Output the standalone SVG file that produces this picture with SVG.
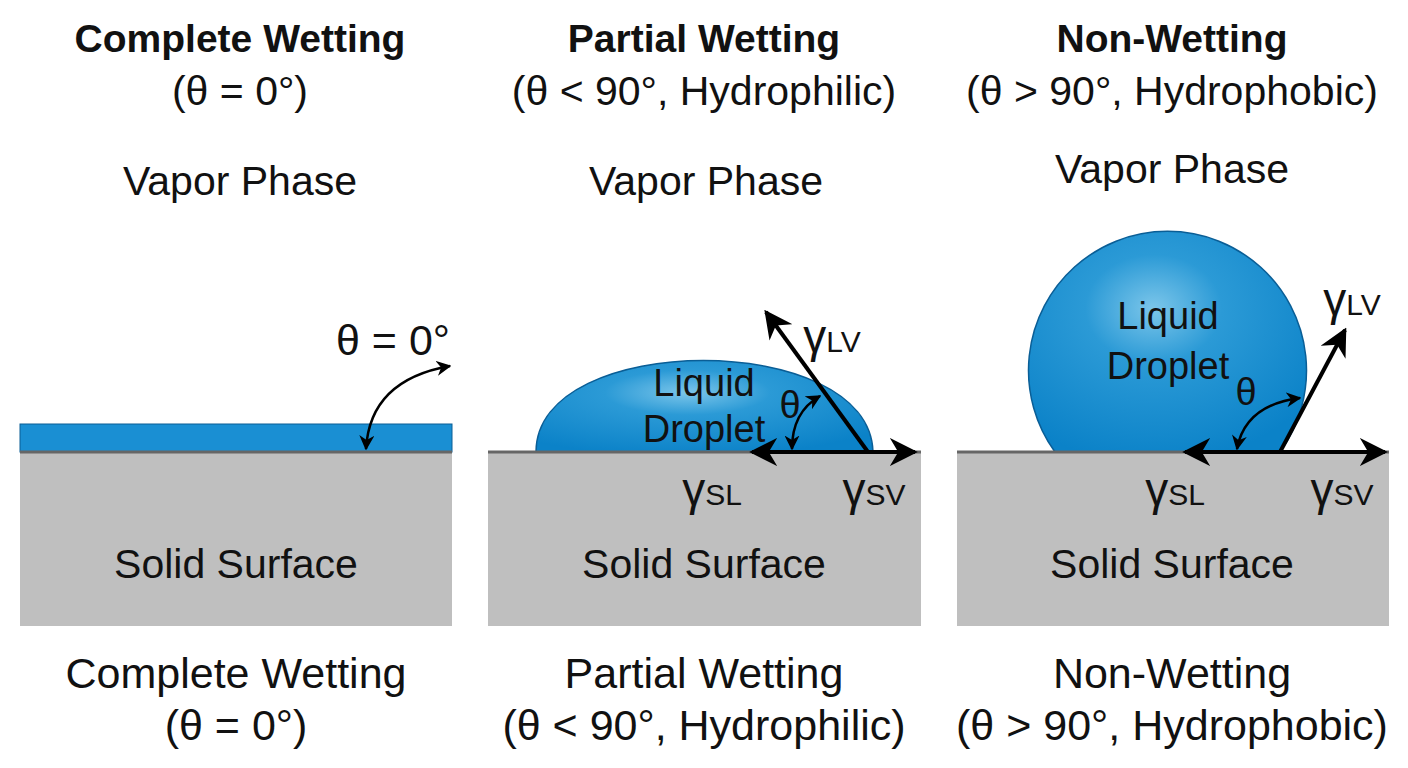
<svg xmlns="http://www.w3.org/2000/svg" width="1408" height="768" viewBox="0 0 1408 768">
<defs>
<radialGradient id="drop" cx="0.45" cy="0.35" r="0.7">
<stop offset="0" stop-color="#7cc6ea"/><stop offset="0.35" stop-color="#2b9ad6"/><stop offset="1" stop-color="#0b82c8"/>
</radialGradient>
<marker id="ah" viewBox="0 0 10 10" refX="9" refY="5" markerWidth="7" markerHeight="7" orient="auto-start-reverse"><path d="M0,0 L10,5 L0,10 L3,5 z" fill="#000"/></marker>
<marker id="sh" viewBox="0 0 10 10" refX="9" refY="5" markerWidth="6" markerHeight="6" orient="auto-start-reverse"><path d="M0,0 L10,5 L0,10 L3,5 z" fill="#000"/></marker>
<style>
text{font-family:"Liberation Sans",Arial,sans-serif;fill:#111;text-anchor:middle}
.t{font-size:39px;font-weight:bold}
.s{font-size:41px}
.b{font-size:43px}
.v{font-size:41px}
.l{font-size:38px}
.g{font-size:46px}
.sub{font-size:30px}
.solid{fill:#bfbfbf}
.edge{stroke:#666;stroke-width:3}
.vec{stroke:#000;stroke-width:4;fill:none;marker-end:url(#ah)}
.arc{stroke:#000;stroke-width:2.5;fill:none;marker-start:url(#sh);marker-end:url(#sh)}
</style>
</defs>
<rect width="1408" height="768" fill="#fff"/>
<g id="panel1">
<text class="t" x="240" y="52">Complete Wetting</text>
<text class="s" x="240" y="105">(θ = 0°)</text>
<text class="v" x="240" y="195">Vapor Phase</text>
<rect x="20" y="424" width="432" height="28" fill="#1a8fd3" stroke="#0a5e96" stroke-width="1"/>
<rect class="solid" x="20" y="452" width="432" height="174"/>
<line class="edge" x1="20" y1="452" x2="452" y2="452"/>
<text class="b" x="393" y="355">θ = 0°</text>
<text class="v" x="236" y="578">Solid Surface</text>
<text class="b" x="236" y="688">Complete Wetting</text>
<text class="b" x="236" y="740">(θ = 0°)</text>
</g>
<g id="panel2">
<text class="t" x="704" y="52">Partial Wetting</text>
<text class="s" x="704" y="105">(θ &lt; 90°, Hydrophilic)</text>
<text class="v" x="706" y="195">Vapor Phase</text>
<rect class="solid" x="488" y="452" width="433" height="174"/>
<path d="M536,452 C536,330 870,330 873,452 Z" fill="url(#drop)" stroke="#0a5e96" stroke-width="1.5"/>
<line class="edge" x1="488" y1="452" x2="921" y2="452"/>
<text class="l" x="704" y="396">Liquid</text>
<text class="l" x="704" y="442">Droplet</text>
<text class="l" x="790" y="418">θ</text>
<text class="v" x="704" y="578">Solid Surface</text>
<text class="b" x="704" y="688">Partial Wetting</text>
<text class="b" x="704" y="740">(θ &lt; 90°, Hydrophilic)</text>
</g>
<g id="panel3">
<text class="t" x="1172" y="52">Non-Wetting</text>
<text class="s" x="1172" y="105">(θ &gt; 90°, Hydrophobic)</text>
<text class="v" x="1172" y="183">Vapor Phase</text>
<rect class="solid" x="957" y="452" width="432" height="174"/>
<path d="M1055,452 A139,139 0 1 1 1280,452 Z" fill="url(#drop)" stroke="#0a5e96" stroke-width="1.5"/>
<line class="edge" x1="957" y1="452" x2="1389" y2="452"/>
<text class="l" x="1168" y="329">Liquid</text>
<text class="l" x="1168" y="379">Droplet</text>
<text class="l" x="1246" y="405">θ</text>
<text class="v" x="1172" y="578">Solid Surface</text>
<text class="b" x="1172" y="688">Non-Wetting</text>
<text class="b" x="1172" y="740">(θ &gt; 90°, Hydrophobic)</text>
</g>
<g id="connectors">
<path class="arc" d="M366,449 Q370,380 450,366"/>
<line class="vec" x1="868" y1="452" x2="766" y2="312"/>
<line class="vec" x1="868" y1="452" x2="752" y2="452"/>
<line class="vec" x1="868" y1="452" x2="915" y2="452"/>
<path class="arc" d="M792,449 Q792,412 820,396"/>
<line class="vec" x1="1280" y1="452" x2="1345" y2="330"/>
<line class="vec" x1="1280" y1="452" x2="1185" y2="452"/>
<line class="vec" x1="1280" y1="452" x2="1385" y2="452"/>
<path class="arc" d="M1237,449 Q1245,405 1300,398"/>
</g>
<g id="labels">
<text class="g" x="832" y="352">γ<tspan class="sub">LV</tspan></text>
<text class="g" x="712" y="505">γ<tspan class="sub">SL</tspan></text>
<text class="g" x="874" y="505">γ<tspan class="sub">SV</tspan></text>
<text class="g" x="1352" y="315">γ<tspan class="sub">LV</tspan></text>
<text class="g" x="1175" y="505">γ<tspan class="sub">SL</tspan></text>
<text class="g" x="1342" y="505">γ<tspan class="sub">SV</tspan></text>
</g>
</svg>
